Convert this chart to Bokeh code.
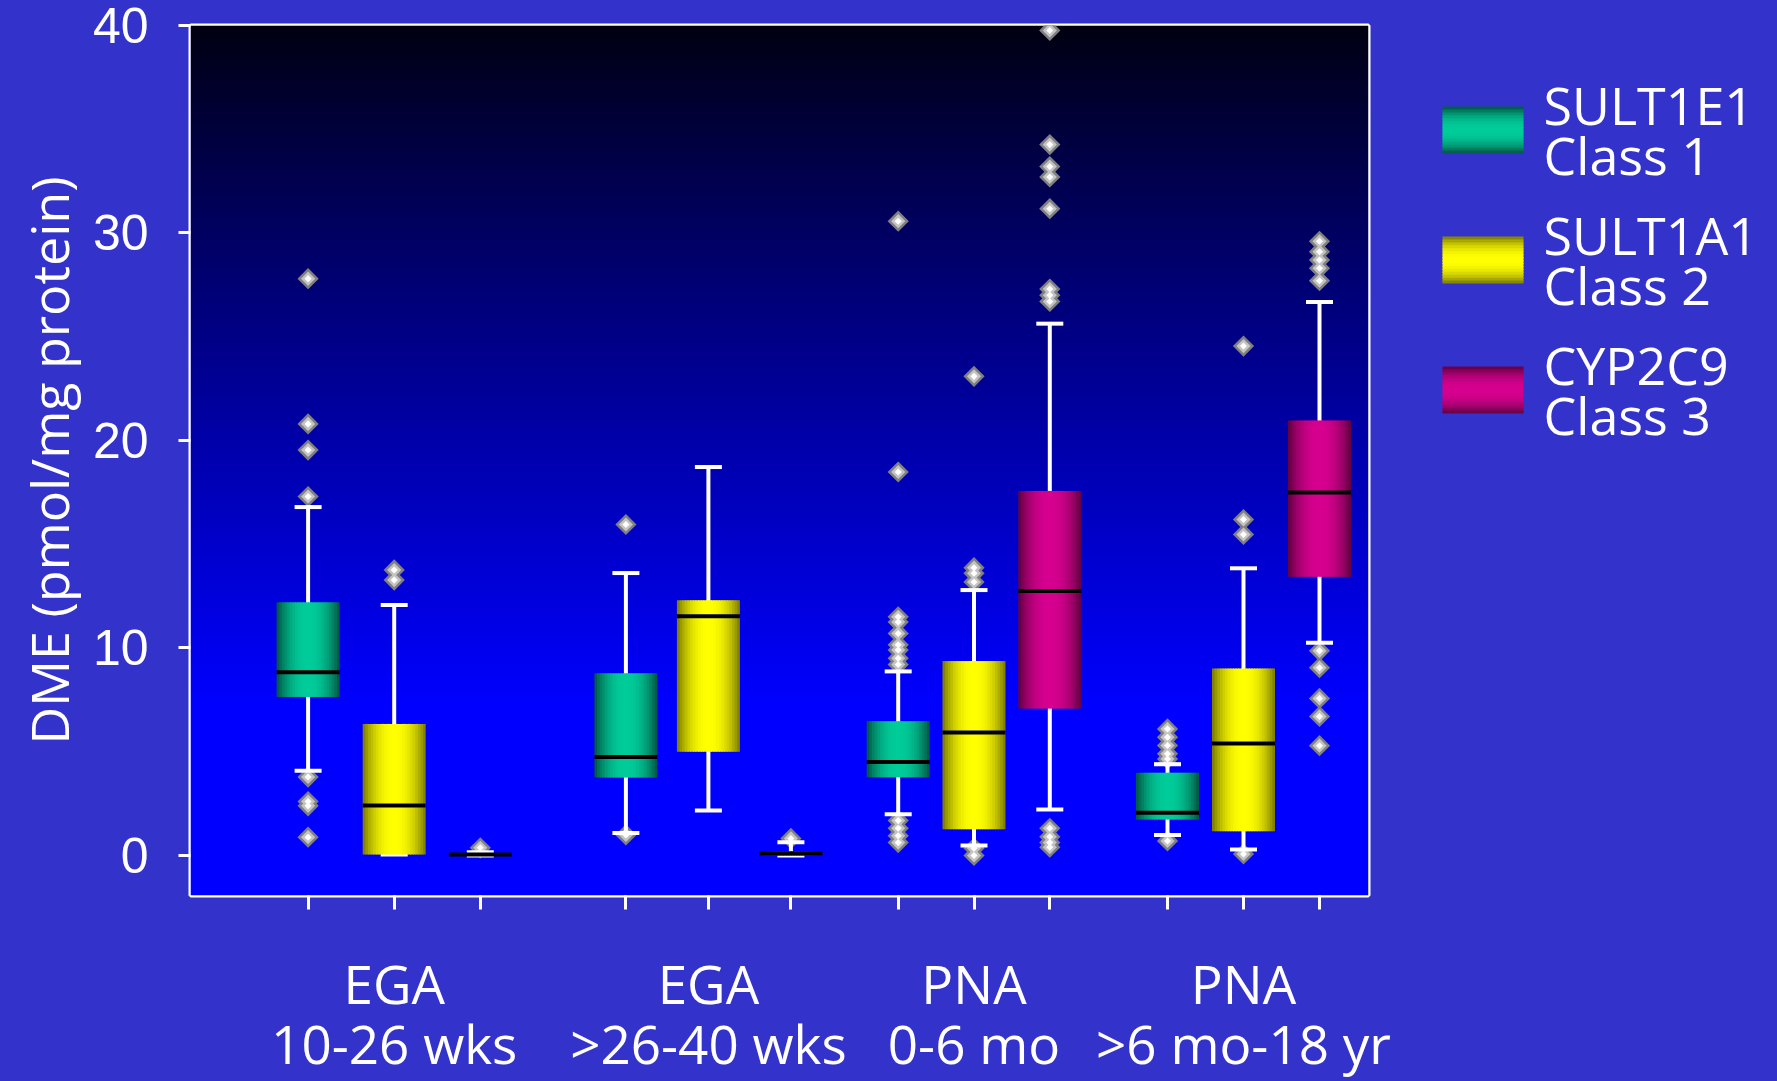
import numpy as np
from bokeh.plotting import figure
from bokeh.models import Range1d, FixedTicker
from bokeh.layouts import row, column
from bokeh.embed import file_html
from bokeh.resources import INLINE
from bokeh.core.properties import value

# ---------------- data ----------------
group_line1 = ["EGA", "EGA", "PNA", "PNA"]
group_line2 = ["10-26 wks", ">26-40 wks", "0-6 mo", ">6 mo-18 yr"]
enzymes = ["SULT1E1", "SULT1A1", "CYP2C9"]
enzyme_classes = ["Class 1", "Class 2", "Class 3"]
y_ticks = [0, 10, 20, 30, 40]
y_label = "DME (pmol/mg protein)"

sult1e1_lo = [4.08, 1.08, 1.98, 0.98]
sult1e1_q1 = [7.64, 3.76, 3.77, 1.73]
sult1e1_med = [8.83, 4.75, 4.51, 2.06]
sult1e1_q3 = [12.2, 8.78, 6.47, 3.99]
sult1e1_hi = [16.79, 13.61, 8.87, 4.40]
sult1e1_out = [[27.8, 20.8, 19.54, 17.3, 3.78, 2.6, 2.39, 0.88],
               [15.95, 0.99],
               [30.57, 18.48, 11.5, 11.25, 10.7, 10.15, 9.9, 9.5, 9.2, 1.68, 1.31, 0.95, 0.62],
               [6.1, 5.7, 5.3, 4.9, 4.65, 0.7]]

sult1a1_lo = [0.05, 2.17, 0.48, 0.29]
sult1a1_q1 = [0.05, 5.0, 1.26, 1.17]
sult1a1_med = [2.41, 11.53, 5.92, 5.4]
sult1a1_q3 = [6.34, 12.3, 9.37, 9.01]
sult1a1_hi = [12.07, 18.72, 12.79, 13.84]
sult1a1_out = [[13.76, 13.27],
               [],
               [23.09, 13.87, 13.6, 13.18, 0.35, 0.0],
               [24.55, 16.19, 15.47, 0.07]]

cyp2c9_lo = [0.0, 0.0, 2.22, 10.25]
cyp2c9_q1 = [0.0, 0.0, 7.08, 13.43]
cyp2c9_med = [0.05, 0.1, 12.74, 17.49]
cyp2c9_q3 = [0.1, 0.2, 17.57, 20.96]
cyp2c9_hi = [0.15, 0.64, 25.63, 26.67]
cyp2c9_out = [[0.37],
              [0.82],
              [39.76, 34.26, 33.2, 32.7, 31.17, 27.3, 27.0, 26.7, 1.31, 0.9, 0.62, 0.4],
              [29.6, 29.1, 28.7, 28.3, 27.7, 9.86, 9.05, 7.57, 6.7, 5.29]]

# ---------------- layout / style ----------------
BG = "#3333cc"
FONT = "Open Sans"
TICK_FONT = "Liberation Sans"
X_MIN, X_MAX = 0.0, 117.8
Y_MIN, Y_MAX = -1.93, 40.0
group_centers = [20.37, 51.79, 78.35, 105.3]
group_spacing = [8.61, 8.25, 7.58, 7.6]
BOX_W = 6.3
CAP_W = 2.7

TOTAL_W, TOTAL_H = 1777, 1081
F_LEFT, F_TOP, F_W, F_H, F_RIGHT, F_BOTTOM = 190, 25, 1178, 870, 20, 30
MAIN_W = F_LEFT + F_W + F_RIGHT
MAIN_H = F_TOP + F_H + F_BOTTOM
CSS = {"background-color": BG}

series = [
    dict(lo=sult1e1_lo, q1=sult1e1_q1, med=sult1e1_med, q3=sult1e1_q3, hi=sult1e1_hi, out=sult1e1_out,
         bright=(0, 204, 153), dark=(0, 80, 64)),
    dict(lo=sult1a1_lo, q1=sult1a1_q1, med=sult1a1_med, q3=sult1a1_q3, hi=sult1a1_hi, out=sult1a1_out,
         bright=(255, 255, 0), dark=(118, 118, 0)),
    dict(lo=cyp2c9_lo, q1=cyp2c9_q1, med=cyp2c9_med, q3=cyp2c9_q3, hi=cyp2c9_hi, out=cyp2c9_out,
         bright=(214, 0, 143), dark=(92, 0, 62)),
]


def shade(bright, dark, f):
    c = [int(round(d + (b - d) * f)) for b, d in zip(bright, dark)]
    return "#%02x%02x%02x" % tuple(c)


def box_x(g, s):
    return group_centers[g] + (s - 1) * group_spacing[g]


p = figure(title=None, frame_width=F_W, frame_height=F_H, frame_align=False,
           x_range=Range1d(X_MIN, X_MAX), y_range=Range1d(Y_MIN, Y_MAX),
           output_backend="svg", toolbar_location=None, styles=CSS,
           min_border_left=F_LEFT, min_border_right=F_RIGHT, min_border_top=F_TOP,
           min_border_bottom=F_BOTTOM,
           background_fill_color=BG, border_fill_color=BG,
           outline_line_color="white", outline_line_width=4)
p.grid.visible = False

# gradient background of plot area
H = F_H
img = np.empty((H, 1), dtype=np.uint32)
view = img.view(dtype=np.uint8).reshape((H, 1, 4))
for i in range(H):
    t = 1.0 - i / (H - 1)  # 0 at top, 1 at bottom
    b = 16 + (255 - 16) * min(1.0, t / 0.78) ** 0.9
    view[i, 0, :] = [0, 0, int(b), 255]
p.image_rgba(image=[img], x=X_MIN, y=Y_MIN, dw=X_MAX - X_MIN, dh=Y_MAX - Y_MIN)

# outliers
ox, oy = [], []
for s, st in enumerate(series):
    for g in range(4):
        for v in st["out"][g]:
            ox.append(box_x(g, s))
            oy.append(v)
p.scatter(ox, oy, marker="square", angle=np.pi / 4, size=15, fill_color="#808080", line_color=None)
p.scatter(ox, oy, marker="square", angle=np.pi / 4, size=10, fill_color="#c4c4c4", line_color=None)
p.scatter(ox, oy, marker="square", angle=np.pi / 4, size=5, fill_color="#ffffff", line_color=None)

# whiskers and caps
wx, wlo, whi = [], [], []
cx0, cx1, cy = [], [], []
for s, st in enumerate(series):
    for g in range(4):
        x = box_x(g, s)
        wx.append(x); wlo.append(st["lo"][g]); whi.append(st["hi"][g])
        for v in (st["lo"][g], st["hi"][g]):
            cx0.append(x - CAP_W / 2); cx1.append(x + CAP_W / 2); cy.append(v)
p.segment(x0=wx, y0=wlo, x1=wx, y1=whi, line_color="white", line_width=4)
p.segment(x0=cx0, y0=cy, x1=cx1, y1=cy, line_color="white", line_width=4)

# boxes with cylinder shading
NS = 24
for s, st in enumerate(series):
    L, R, B, T, C = [], [], [], [], []
    for g in range(4):
        x0 = box_x(g, s) - BOX_W / 2
        for k in range(NS):
            u = (k + 0.5) / NS * 2 - 1
            f = 1 - abs(u) ** 2.2
            L.append(x0 + k * BOX_W / NS)
            R.append(min(x0 + BOX_W, x0 + (k + 1.4) * BOX_W / NS))
            B.append(st["q1"][g]); T.append(st["q3"][g])
            C.append(shade(st["bright"], st["dark"], f))
    p.quad(left=L, right=R, bottom=B, top=T, fill_color=C, line_color=None)
    mx = [box_x(g, s) for g in range(4)]
    p.segment(x0=[x - BOX_W / 2 for x in mx], x1=[x + BOX_W / 2 for x in mx],
              y0=st["med"], y1=st["med"], line_color="black", line_width=4)

# axes
ya = p.yaxis[0]
ya.ticker = FixedTicker(ticks=y_ticks)
ya.axis_line_color = None
ya.major_tick_line_color = "white"
ya.major_tick_line_width = 3
ya.major_tick_out = 12
ya.major_tick_in = 0
ya.minor_tick_line_color = None
ya.major_label_text_color = "white"
ya.major_label_text_font = TICK_FONT
ya.major_label_text_font_size = "50px"
ya.major_label_standoff = 30
ya.axis_label = y_label
ya.axis_label_text_color = "white"
ya.axis_label_text_font = FONT
ya.axis_label_text_font_size = "52px"
ya.axis_label_text_font_style = "normal"
ya.axis_label_standoff = 6

xa = p.xaxis[0]
xa.ticker = FixedTicker(ticks=[box_x(g, s) for g in range(4) for s in range(3)])
xa.axis_line_color = None
xa.major_tick_line_color = "white"
xa.major_tick_line_width = 3
xa.major_tick_out = 14
xa.major_tick_in = 0
xa.minor_tick_line_color = None
xa.major_label_text_font_size = "0px"
xa.major_label_text_color = None
xa.major_label_standoff = 0

# legend panel (coordinates in page pixels, y downwards)
LEG_W = TOTAL_W - MAIN_W
leg = figure(title=None, width=LEG_W, height=MAIN_H, frame_align=False,
             x_range=Range1d(0, LEG_W), y_range=Range1d(MAIN_H, 0),
             output_backend="svg", toolbar_location=None, styles=CSS,
             min_border_left=0, min_border_right=0, min_border_top=0, min_border_bottom=0,
             x_axis_type=None, y_axis_type=None,
             background_fill_color=BG, border_fill_color=BG, outline_line_color=None)
leg.grid.visible = False
SW_X0, SW_X1, SW_TOP0, SW_STEP, SW_H = 54, 135, 106, 130, 47
NV = 16
for s, st in enumerate(series):
    top = SW_TOP0 + s * SW_STEP
    L, R, B, T, C = [], [], [], [], []
    for k in range(NV):
        u = (k + 0.5) / NV * 2 - 1
        f = 1 - abs(u) ** 2.2
        L.append(SW_X0); R.append(SW_X1)
        B.append(top + k * SW_H / NV)
        T.append(min(top + SW_H, top + (k + 1.4) * SW_H / NV))
        C.append(shade(st["bright"], st["dark"], f))
    leg.quad(left=L, right=R, bottom=B, top=T, fill_color=C, line_color=None)
TX = 155
leg.text(x=[TX] * 3, y=[SW_TOP0 + s * SW_STEP - 2 for s in range(3)], text=enzymes,
         text_font=value(FONT), text_font_size="52px", text_color="white",
         text_align="left", text_baseline="alphabetic")
leg.text(x=[TX] * 3, y=[SW_TOP0 + s * SW_STEP + 48 for s in range(3)], text=enzyme_classes,
         text_font=value(FONT), text_font_size="52px", text_color="white",
         text_align="left", text_baseline="alphabetic")

# group labels panel
LAB_H = TOTAL_H - MAIN_H
lab = figure(title=None, width=TOTAL_W, height=LAB_H, frame_align=False,
             x_range=Range1d(X_MIN, X_MIN + (TOTAL_W - F_LEFT) / 10.0), y_range=Range1d(LAB_H, 0),
             output_backend="svg", toolbar_location=None, styles=CSS,
             min_border_left=F_LEFT, min_border_right=0, min_border_top=0, min_border_bottom=0,
             x_axis_type=None, y_axis_type=None,
             background_fill_color=BG, border_fill_color=BG, outline_line_color=None)
lab.grid.visible = False
lab.text(x=group_centers, y=[58] * 4, text=group_line1,
         text_font=value(FONT), text_font_size="53px", text_color="white",
         text_align="center", text_baseline="alphabetic")
lab.text(x=group_centers, y=[118] * 4, text=group_line2,
         text_font=value(FONT), text_font_size="53px", text_color="white",
         text_align="center", text_baseline="alphabetic")

layout = column(row(p, leg, styles=CSS), lab, styles=CSS)
open("out.html", "w").write(file_html(layout, INLINE))
